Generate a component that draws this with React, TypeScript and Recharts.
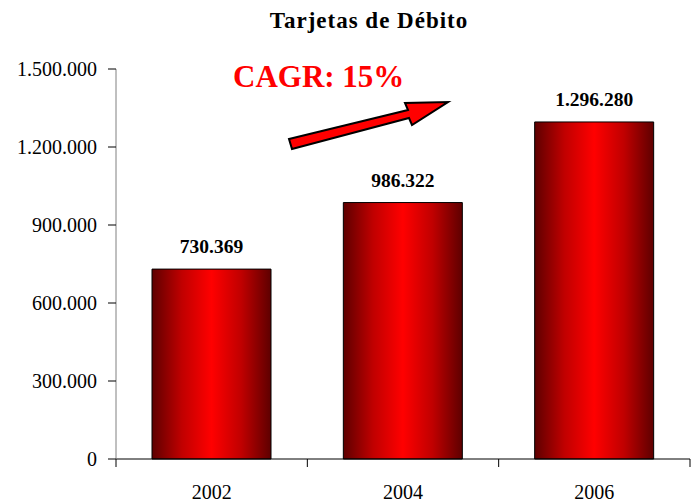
import { BarChart, Bar, XAxis, YAxis, LabelList } from "recharts";

const years = ["2002", "2004", "2006"];
const cards = [730369, 986322, 1296280];
const yTicks = [0, 300000, 600000, 900000, 1200000, 1500000];

const data = years.map((year, i) => ({ year, value: cards[i] }));

const fmt = (v: number) => String(v).replace(/\B(?=(\d{3})+(?!\d))/g, ".");

const FONT = "'Liberation Serif', 'DejaVu Serif', serif";

// category label plus tick marks on the band edges (like Excel)
const YearTick = (props: any) => {
  const { x, y, payload, index, visibleTicksCount } = props;
  const half = payload.offset || 0;
  const last = index === (visibleTicksCount ?? years.length) - 1;
  return (
    <g>
      <line x1={x - half} y1={y} x2={x - half} y2={y + 8} stroke="#000" />
      {last && <line x1={x + half} y1={y} x2={x + half} y2={y + 8} stroke="#000" />}
      <text x={x} y={y + 40} textAnchor="middle" fontSize={20} fontFamily={FONT} fill="#000">
        {payload.value}
      </text>
    </g>
  );
};

export default function App() {
  return (
    <div style={{ position: "absolute", left: 0, top: 0, width: 691, height: 504, background: "#fff", fontFamily: FONT }}>
      <BarChart width={691} height={504} data={data} margin={{ top: 69, right: 1, left: 0, bottom: 0 }}>
        <defs>
          <linearGradient id="barGrad" x1="0" y1="0" x2="1" y2="0">
            <stop offset="0%" stopColor="#5e0000" />
            <stop offset="25%" stopColor="#c00000" />
            <stop offset="50%" stopColor="#ff0000" />
            <stop offset="75%" stopColor="#c00000" />
            <stop offset="100%" stopColor="#5e0000" />
          </linearGradient>
        </defs>
        <XAxis
          dataKey="year"
          height={45}
          tickLine={false}
          tickSize={0}
          tickMargin={0}
          axisLine={{ stroke: "#000" }}
          tick={YearTick}
          interval={0}
        />
        <YAxis
          width={116}
          domain={[0, 1500000]}
          ticks={yTicks}
          tickFormatter={fmt}
          tickSize={8}
          tickMargin={11}
          axisLine={{ stroke: "#808080" }}
          tickLine={{ stroke: "#000" }}
          tick={{ fill: "#000", fontSize: 20, fontFamily: FONT }}
        />
        <Bar dataKey="value" barSize={119} fill="url(#barGrad)" stroke="#000" strokeWidth={1} isAnimationActive={false}>
          <LabelList
            dataKey="value"
            position="top"
            offset={16}
            formatter={(v: any) => fmt(Number(v))}
            style={{ fill: "#000", fontSize: 19.5, fontWeight: "bold", fontFamily: FONT }}
          />
        </Bar>
      </BarChart>
      <svg width={691} height={504} style={{ position: "absolute", left: 0, top: 0, pointerEvents: "none" }}>
        <text x={369} y={28} textAnchor="middle" fontSize={23} fontWeight="bold" fontFamily={FONT} letterSpacing={1} fill="#000">
          Tarjetas de Débito
        </text>
        <text x={233} y={87} fontSize={31} fontWeight="bold" fontFamily={FONT} fill="#ff0000">
          CAGR: 15%
        </text>
        <polygon
          points="289,139 408,110 405,103 448,102 412,125 409,118 292,149"
          fill="#ff0000"
          stroke="#000"
          strokeWidth={2}
          strokeLinejoin="miter"
        />
      </svg>
    </div>
  );
}
